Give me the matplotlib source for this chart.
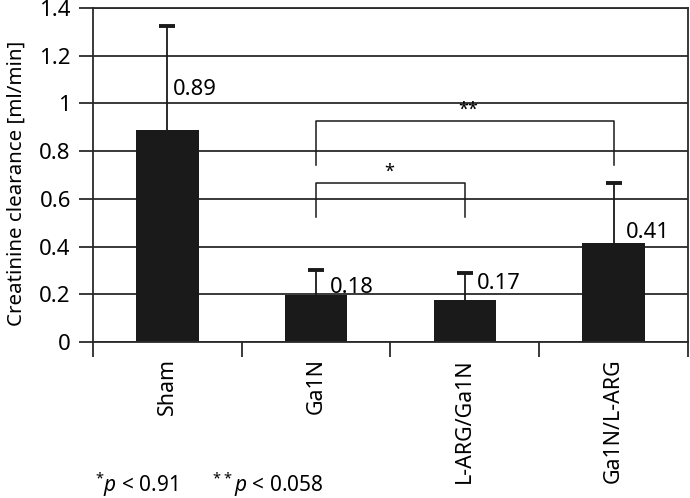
import numpy as np
import matplotlib
matplotlib.use("Agg")
from matplotlib import pyplot as plt

plt.rcParams['font.family'] = ['Noto Sans', 'DejaVu Sans']
plt.rcParams['mathtext.fontset'] = 'custom'
plt.rcParams['mathtext.rm'] = 'Noto Sans'
plt.rcParams['mathtext.it'] = 'Noto Sans:italic'

groups = ['Sham', 'Ga1N', 'L-ARG/Ga1N', 'Ga1N/L-ARG']
means = [0.89, 0.195, 0.175, 0.415]
errors = [0.436, 0.105, 0.115, 0.25]
value_labels = ['0.89', '0.18', '0.17', '0.41']
yticks = [0, 0.2, 0.4, 0.6, 0.8, 1.0, 1.2, 1.4]
ytick_labels = ['0', '0.2', '0.4', '0.6', '0.8', '1', '1.2', '1.4']

fig = plt.figure(figsize=(6.9, 4.98), dpi=100)
ax = fig.add_axes([0.1348, 0.3133, 0.8622, 0.6706])

x = np.arange(len(groups))
ax.set_axisbelow(True)
ax.yaxis.grid(True, color='#2a2a2a', lw=1.3)
ax.bar(x, means, width=0.42, color='#1a1a1a', zorder=2)
eb = ax.errorbar(x, means, yerr=[np.zeros(len(errors)), errors], fmt='none',
                 ecolor='#1a1a1a', elinewidth=1.3, capsize=6, capthick=2.8, zorder=3)
eb[1][0].set_visible(False)  # no cap at the bar top

# value labels next to the error bars
label_y = [1.06, 0.23, 0.247, 0.457]
label_dx = [0.04, 0.09, 0.08, 0.08]
for i, t in enumerate(value_labels):
    ax.text(x[i] + label_dx[i], label_y[i], t, fontsize=15.8, va='center', ha='left')

# significance brackets
def bracket(a, b, top, bottom, star, star_x):
    ax.plot([x[a], x[a], x[b], x[b]], [bottom, top, top, bottom],
            color='#1a1a1a', lw=1.1, zorder=3)
    ax.text(star_x, top + 0.008, star, fontsize=13, ha='center', va='bottom')

bracket(1, 3, 0.926, 0.742, '**', 2.02)
bracket(1, 2, 0.668, 0.523, '*', 1.49)

ax.set_xlim(-0.5, 3.5)
ax.set_ylim(0, 1.4)
ax.set_yticks(yticks)
ax.set_yticklabels(ytick_labels, fontsize=16)
ax.set_xticks(x)
ax.set_xticklabels(groups, rotation=90, fontsize=15.4)
ax.tick_params(axis='x', length=0, pad=11.5)
ax.set_xticks(np.arange(-0.5, 4.0, 1.0), minor=True)
ax.tick_params(axis='x', which='minor', length=11, width=1.3, color='#2a2a2a')
ax.tick_params(axis='y', length=10, width=1.3, color='#2a2a2a', pad=6)

for s in ax.spines.values():
    s.set_color('#2a2a2a')
    s.set_linewidth(1.3)

ax.set_ylabel('Creatinine clearance [ml/min]', fontsize=14.8)
ax.yaxis.set_label_coords(-0.112, 0.476)

fig.text(0.137, 0.026, r'$^{*}\mathit{p}$ < 0.91      $^{**}\mathit{p}$ < 0.058',
         fontsize=15, ha='left', va='center')

plt.savefig('out.png')
